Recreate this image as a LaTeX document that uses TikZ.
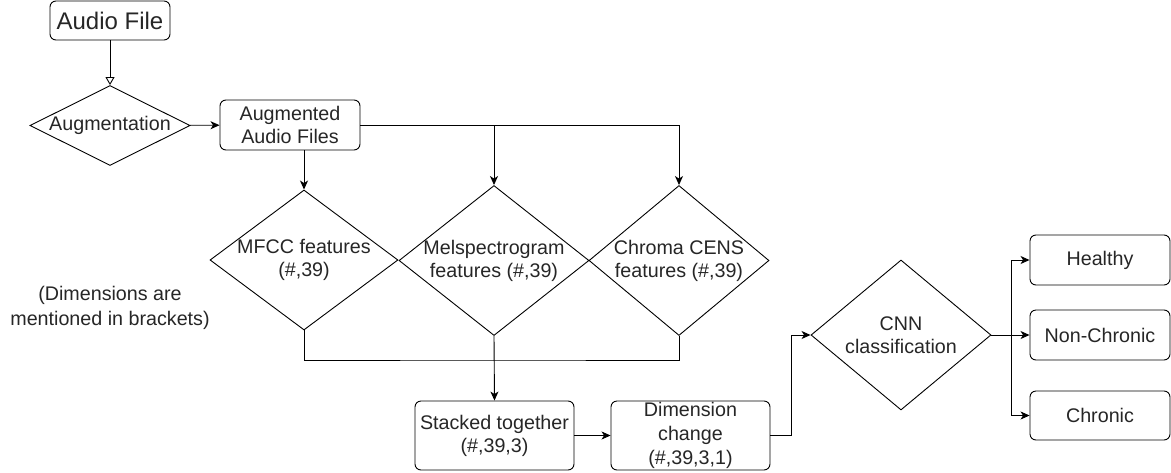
\documentclass[tikz,border=0pt]{standalone}
\usepackage{fontspec}
\setmainfont{Liberation Sans}
\usetikzlibrary{shapes.geometric,arrows.meta}

\begin{document}
\begin{tikzpicture}[x=1pt, y=-1pt,
    every node/.style={font=\fontsize{19.7}{23}\selectfont, text=black!85},
    box/.style={draw, rounded corners=6pt, line width=0.9pt, align=center, inner sep=0pt},
    dia/.style={draw, diamond, line width=0.9pt, inner sep=0pt},
    arr/.style={-{Stealth[length=9pt, width=8pt, inset=2.5pt]}, line width=0.9pt},
    wire/.style={line width=0.9pt}]
    \useasboundingbox (0,0) rectangle (1171,472);

    % Input and augmentation
    \node[box, minimum width=120pt, minimum height=39pt, font=\fontsize{24}{28}\selectfont] (audio) at (110,20.5) {Audio File};
    \node[dia, minimum width=160pt, minimum height=80pt, label={center:Augmentation}] (aug) at (110,125.5) {};
    \node[box, minimum width=140pt, minimum height=50pt] (augf) at (290,125) {Augmented\\Audio Files};

    % Feature extraction
    \node[dia, minimum width=188pt, minimum height=140pt, label={[align=center]center:MFCC features\\(\#,39)}] (mfcc) at (304,260) {};
    \node[dia, minimum width=190pt, minimum height=150pt, label={[align=center]center:Melspectrogram\\features (\#,39)}] (mel) at (494,260.5) {};
    \node[dia, minimum width=180pt, minimum height=150pt, label={[align=center]center:Chroma CENS\\features (\#,39)}] (cens) at (679,260.5) {};
    \node[align=center, font=\fontsize{19.7}{25.5}\selectfont] (note) at (110,308) {(Dimensions are\\mentioned in brackets)};

    % Stacking and classification
    \node[box, minimum width=159pt, minimum height=69pt] (stack) at (494.5,435.5) {Stacked together\\(\#,39,3)};
    \node[box, minimum width=159pt, minimum height=69pt, font=\fontsize{19.7}{24}\selectfont] (dim) at (690.5,435.5) {Dimension\\change\\(\#,39,3,1)};
    \node[dia, minimum width=180pt, minimum height=150pt, label={[align=center]center:CNN\\classification}] (cnn) at (901,335) {};
    \node[box, minimum width=140pt, minimum height=50pt] (healthy) at (1100,260) {Healthy};
    \node[box, minimum width=140pt, minimum height=50pt] (nonchr) at (1100,335) {Non-Chronic};
    \node[box, minimum width=140pt, minimum height=49pt] (chronic) at (1100,415.5) {Chronic};

    \coordinate (merge) at (494,360);

    % Connectors
    \draw[wire, -{Triangle[open, length=8pt, width=9pt]}] (audio) -- (aug);
    \draw[arr] (aug) -- (augf);
    \draw[arr] (augf.south -| mfcc.north) -- (mfcc.north);
    \draw[arr] (augf.east) -| (mel.north);
    \draw[arr] (augf.east) -| (cens.north);
    \draw[wire] (mfcc.south) |- (merge) -| (cens.south);
    \draw[arr] (mel.south) -- (stack.north);
    \draw[arr] (stack) -- (dim);
    \draw[arr] (dim.east) -- ++(21,0) |- (cnn.west);
    \draw[arr] (cnn.east) -- ++(20,0) |- (healthy.west);
    \draw[arr] (cnn.east) -- (nonchr.west);
    \draw[arr] (cnn.east) -- ++(20,0) |- (chronic.west);
\end{tikzpicture}
\end{document}
